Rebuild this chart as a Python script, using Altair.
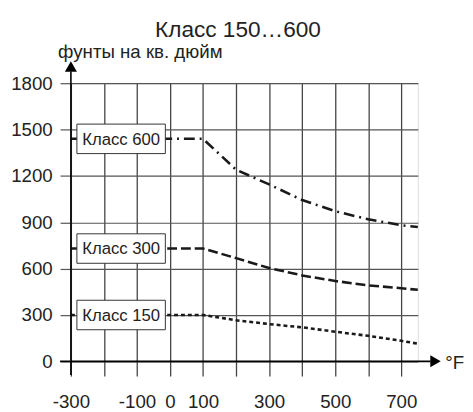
import altair as alt
import pandas as pd

# ---- data ----
temps = [-300, 100, 200, 300, 400, 500, 600, 700, 750]
class600 = [1440, 1440, 1240, 1145, 1044, 972, 919, 881, 870]
class300 = [730, 730, 668, 604, 556, 520, 492, 473, 463]
class150 = [300, 300, 266, 241, 220, 192, 165, 133, 114]
series = ["Класс 600", "Класс 300", "Класс 150"]
label_x = [-148, -148, -148]
label_y = [1440, 730, 300]
y_ticks = [0, 300, 600, 900, 1200, 1500, 1800]
x_ticks = [-300, -200, -100, 0, 100, 200, 300, 400, 500, 600, 700]
x_labels_shown = [-300, -100, 0, 100, 300, 500, 700]
title = "Класс 150…600"
y_title = "фунты на кв. дюйм"
x_unit = "°F"

FONT = "Liberation Sans"
W, H = 353, 283

rows = []
for name, vals in zip(series, [class600, class300, class150]):
    for t, v in zip(temps, vals):
        rows.append({"series": name, "t": t, "p": v})
df = pd.DataFrame(rows)
lab = pd.DataFrame({"series": series, "x": label_x, "y": label_y})

xs = alt.Scale(domain=[-300, 750], nice=False, zero=False)
ys = alt.Scale(domain=[0, 1800], nice=False, zero=True)

shown = ",".join(str(v) for v in x_labels_shown)

AX = alt.Axis(
    values=x_ticks, title=None, grid=True, gridColor="#444", gridWidth=1.3,
    tickColor="#444", tickWidth=1.3, tickSize=15, domain=False,
    labelFont=FONT, labelFontSize=19, labelColor="#222", labelPadding=17,
    labelOverlap=False, labelFlush=False,
    labelExpr=f"indexof([{shown}], datum.value) >= 0 ? '' + datum.value : ''")
AY = alt.Axis(
    values=y_ticks, title=None, grid=True, gridColor="#555", gridWidth=1.2,
    tickColor="#555", tickWidth=1.2, tickSize=11, domain=False, format="d",
    labelFont=FONT, labelFontSize=19, labelColor="#222", labelPadding=8,
    labelOverlap=False, labelFlush=False)

lines = alt.Chart(df).mark_line(strokeWidth=2.6, color="#1a1a1a").encode(
    x=alt.X("t:Q", scale=xs, axis=AX),
    y=alt.Y("p:Q", scale=ys, axis=AY),
    detail="series:N",
    strokeDash=alt.StrokeDash("series:N", scale=alt.Scale(
        domain=series, range=[[11, 5, 2, 5], [10, 4], [4, 3]]), legend=None),
)

boxes = alt.Chart(lab).mark_rect(width=90, height=30, fill="white",
                                 stroke="#333", strokeWidth=1).encode(
    x=alt.X("x:Q", scale=xs, axis=AX), y=alt.Y("y:Q", scale=ys, axis=AY))
texts = alt.Chart(lab).mark_text(font=FONT, fontSize=17, color="#222",
                                 align="center", baseline="middle", dy=1).encode(
    x=alt.X("x:Q", scale=xs, axis=AX), y=alt.Y("y:Q", scale=ys, axis=AY),
    text="series:N")

one = pd.DataFrame({"a": [0]})
# axis lines with arrows
yaxis = alt.Chart(one).mark_rule(color="black", strokeWidth=1.6).encode(
    x=alt.value(0), y=alt.value(-12), y2=alt.value(H + 14))
xaxis = alt.Chart(one).mark_rule(color="black", strokeWidth=1.6).encode(
    x=alt.value(-11), x2=alt.value(366), y=alt.value(H))
yarrow = alt.Chart(one).mark_point(shape="triangle-up", size=150, filled=True,
                                   color="black", opacity=1).encode(
    x=alt.value(0), y=alt.value(-17))
xarrow = alt.Chart(one).mark_point(shape="triangle-right", size=150, filled=True,
                                   color="black", opacity=1).encode(
    x=alt.value(371), y=alt.value(H))

t1 = alt.Chart(pd.DataFrame({"s": [title]})).mark_text(
    font=FONT, fontSize=23, color="#222", align="center", baseline="alphabetic").encode(
    x=alt.value(170), y=alt.value(-47), text="s:N")
t2 = alt.Chart(pd.DataFrame({"s": [y_title]})).mark_text(
    font=FONT, fontSize=19, color="#222", align="left", baseline="alphabetic").encode(
    x=alt.value(-13), y=alt.value(-26), text="s:N")
t3 = alt.Chart(pd.DataFrame({"s": [x_unit]})).mark_text(
    font=FONT, fontSize=19, color="#222", align="left", baseline="alphabetic").encode(
    x=alt.value(381), y=alt.value(H + 8), text="s:N")

chart = alt.layer(lines, yaxis, xaxis, yarrow, xarrow, boxes, texts, t1, t2, t3).properties(
    width=W, height=H,
    autosize=alt.AutoSizeParams(type="none"),
    padding={"left": 64, "top": 73, "right": 48, "bottom": 48},
).configure_view(stroke=None).configure(background="white")

chart.save("out.html", embed_options={"renderer": "svg", "actions": False})
